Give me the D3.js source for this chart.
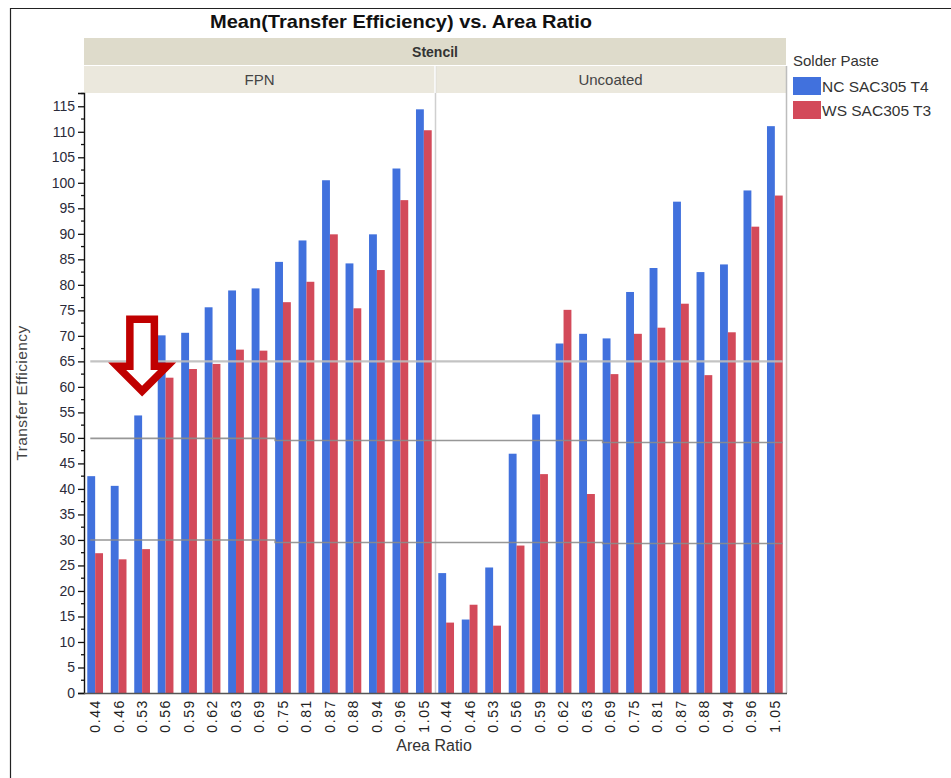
<!DOCTYPE html>
<html>
<head>
<meta charset="utf-8">
<script src="https://cdn.jsdelivr.net/npm/d3@7"></script>
<style>
  html, body { margin: 0; padding: 0; background: #fff; }
  svg { display: block; font-family: "Liberation Sans", Arial, sans-serif; }
</style>
</head>
<body>
<svg id="chart" width="951" height="778"></svg>
<script>
// Area ratio categories (shared by both stencil panels)
const categories = ["0.44","0.46","0.53","0.56","0.59","0.62","0.63","0.69","0.75","0.81","0.87","0.88","0.94","0.96","1.05"];
const panels = ["FPN", "Uncoated"];
const seriesNames = ["NC SAC305 T4", "WS SAC305 T3"];
const seriesColors = ["#4171dd", "#d34a5a"];

// Mean transfer efficiency per area ratio
const fpnNC = [42.5, 40.6, 54.4, 70.1, 70.6, 75.6, 78.9, 79.3, 84.5, 88.7, 100.5, 84.2, 89.9, 102.8, 114.4];
const fpnWS = [27.4, 26.2, 28.2, 61.8, 63.5, 64.5, 67.3, 67.1, 76.6, 80.6, 89.9, 75.4, 82.9, 96.6, 110.3];
const uncNC = [23.5, 14.4, 24.6, 46.9, 54.6, 68.5, 70.4, 69.5, 78.6, 83.3, 96.3, 82.5, 84.0, 98.5, 111.1];
const uncWS = [13.8, 17.3, 13.2, 28.9, 42.9, 75.1, 39.0, 62.5, 70.4, 71.6, 76.3, 62.3, 70.7, 91.4, 97.5];

const yTicks = d3.range(0, 116, 5);
const yMax = 117.6;

// Reference levels: [panel, starting category, value]
const ref65 = [["FPN", "0.44", 65]];
const ref50 = [["FPN", "0.44", 49.9], ["FPN", "0.75", 49.5], ["Uncoated", "0.69", 49.1]];
const ref30 = [["FPN", "0.44", 30.0], ["FPN", "0.75", 29.5], ["Uncoated", "0.69", 29.3]];

// Callout arrow pointing at a category
const arrowAt = { panel: "FPN", category: "0.53", topValue: 74 };

const data = [];
const seriesByPanel = { FPN: [fpnNC, fpnWS], Uncoated: [uncNC, uncWS] };
panels.forEach(p => categories.forEach((c, i) => seriesNames.forEach((s, k) => {
  data.push({ panel: p, category: c, series: s, value: seriesByPanel[p][k][i] });
})));

const svg = d3.select("#chart");
const plot = { left: 84, right: 786, top: 93, bottom: 693 };

const panelScale = d3.scaleBand().domain(panels).range([plot.left, plot.right]);
const xScale = d3.scaleBand().domain(categories)
  .range([0, panelScale.bandwidth()]).paddingInner(0.33).paddingOuter(0.14);
const sScale = d3.scaleBand().domain(seriesNames).range([0, xScale.bandwidth()]);
const yScale = d3.scaleLinear().domain([0, yMax]).range([plot.bottom, plot.top]);
const color = d3.scaleOrdinal().domain(seriesNames).range(seriesColors);

const xPos = (panel, cat) => panelScale(panel) + xScale(cat);

// Outer frame lines
svg.append("line").attr("x1", 10.5).attr("x2", 10.5).attr("y1", 8).attr("y2", 778)
  .attr("stroke", "#222").attr("stroke-width", 1.2);
svg.append("line").attr("x1", 10).attr("x2", 951).attr("y1", 8.5).attr("y2", 8.5)
  .attr("stroke", "#222").attr("stroke-width", 1.2);

// Title
svg.append("text").attr("x", 401).attr("y", 28).attr("text-anchor", "middle")
  .attr("font-size", 19).attr("font-weight", "bold").attr("fill", "#111")
  .attr("textLength", 382).attr("lengthAdjust", "spacingAndGlyphs")
  .text("Mean(Transfer Efficiency) vs. Area Ratio");

// Facet header bands
svg.append("rect").attr("x", plot.left).attr("y", 38).attr("width", plot.right - plot.left).attr("height", 27)
  .attr("fill", "#dedbcb");
svg.append("text").attr("x", (plot.left + plot.right) / 2).attr("y", 57).attr("text-anchor", "middle")
  .attr("font-size", 14).attr("font-weight", "bold").attr("fill", "#333").text("Stencil");
panels.forEach(p => {
  svg.append("rect").attr("x", panelScale(p)).attr("y", 66).attr("width", panelScale.bandwidth()).attr("height", 27)
    .attr("fill", "#ebe8dd");
  svg.append("text").attr("x", panelScale(p) + panelScale.bandwidth() / 2).attr("y", 85)
    .attr("text-anchor", "middle").attr("font-size", 15).attr("fill", "#444").text(p);
});

// Panel divider and right border
svg.append("line").attr("x1", panelScale("Uncoated") + 0.5).attr("x2", panelScale("Uncoated") + 0.5)
  .attr("y1", 66).attr("y2", plot.bottom).attr("stroke", "#cfcfcf").attr("stroke-width", 1.5);
svg.append("line").attr("x1", plot.right + 0.5).attr("x2", plot.right + 0.5)
  .attr("y1", 66).attr("y2", plot.bottom).attr("stroke", "#bdbdbd").attr("stroke-width", 1.5);
svg.append("line").attr("x1", panelScale("Uncoated")).attr("x2", panelScale("Uncoated"))
  .attr("y1", 66).attr("y2", 93).attr("stroke", "#ffffff").attr("stroke-width", 1.5);

// Bars
svg.append("g").selectAll("rect").data(data).join("rect")
  .attr("x", d => xPos(d.panel, d.category) + sScale(d.series))
  .attr("width", sScale.bandwidth())
  .attr("y", d => yScale(d.value))
  .attr("height", d => yScale(0) - yScale(d.value))
  .attr("fill", d => color(d.series));

// Reference lines drawn as stepped polylines
function refPath(segs) {
  const pts = [];
  const xStart = xPos("FPN", categories[0]) + 3;
  const xEnd = xPos("Uncoated", categories[categories.length - 1]) + xScale.bandwidth();
  segs.forEach((s, i) => {
    const x0 = i === 0 ? xStart : xPos(s[0], s[1]);
    if (i > 0) pts.push([x0, yScale(segs[i - 1][2])]);
    pts.push([x0, yScale(s[2])]);
  });
  pts.push([xEnd, yScale(segs[segs.length - 1][2])]);
  return d3.line()(pts);
}
svg.append("path").attr("d", refPath(ref65)).attr("fill", "none")
  .attr("stroke", "#bcbcbc").attr("stroke-width", 2.2).attr("opacity", 0.9);
[ref50, ref30].forEach(r => svg.append("path").attr("d", refPath(r)).attr("fill", "none")
  .attr("stroke", "#8c8c8c").attr("stroke-width", 1.6).attr("opacity", 0.9));

// Y axis
const yAxis = d3.axisLeft(yScale).tickValues(yTicks).tickSize(6).tickPadding(3);
const gy = svg.append("g").attr("transform", `translate(${plot.left},0)`).call(yAxis);
gy.select(".domain").attr("stroke", "#111").attr("stroke-width", 1.4);
gy.selectAll(".tick line").attr("stroke", "#111").attr("stroke-width", 1.3);
gy.selectAll(".tick text").attr("font-size", 14).attr("fill", "#2b2b3a")
  .attr("font-family", "'Liberation Sans', Arial, sans-serif");
const minorTicks = d3.range(2.5, yMax, 5);
gy.append("g").selectAll("line").data(minorTicks).join("line")
  .attr("x1", -3).attr("x2", 0).attr("y1", d => yScale(d)).attr("y2", d => yScale(d))
  .attr("stroke", "#111").attr("stroke-width", 1.3);

// X baseline
svg.append("line").attr("x1", plot.left).attr("x2", plot.right + 1).attr("y1", plot.bottom + 0.5).attr("y2", plot.bottom + 0.5)
  .attr("stroke", "#555").attr("stroke-width", 1.5);

// X tick labels, rotated, per panel
panels.forEach(p => {
  const axis = d3.axisBottom(xScale).tickSize(0).tickPadding(0);
  const gx = svg.append("g").attr("transform", `translate(${panelScale(p)},${plot.bottom})`).call(axis);
  gx.select(".domain").remove();
  gx.selectAll(".tick text")
    .attr("transform", "rotate(-90)")
    .attr("x", -6).attr("y", 0).attr("dy", "0.35em")
    .attr("text-anchor", "end")
    .attr("font-size", 14).attr("letter-spacing", 1.6)
    .attr("font-family", "'Liberation Sans', Arial, sans-serif")
    .attr("fill", "#222");
});

// Axis titles
svg.append("text").attr("x", 434).attr("y", 751).attr("text-anchor", "middle")
  .attr("font-size", 16).attr("fill", "#333").text("Area Ratio");
svg.append("text").attr("transform", `translate(27,${393}) rotate(-90)`)
  .attr("text-anchor", "middle").attr("font-size", 15.5).attr("letter-spacing", 0.4)
  .attr("fill", "#444").text("Transfer Efficiency");

// Legend
const lg = svg.append("g").attr("transform", "translate(793,0)");
lg.append("text").attr("x", 0).attr("y", 66).attr("font-size", 15).attr("fill", "#333").text("Solder Paste");
seriesNames.forEach((s, i) => {
  lg.append("rect").attr("x", 0).attr("y", 77 + i * 24).attr("width", 28).attr("height", 18).attr("fill", color(s));
  lg.append("text").attr("x", 29).attr("y", 92 + i * 24).attr("font-size", 15.5).attr("fill", "#333").text(s);
});

// Callout arrow (outlined, pointing down)
const ax = xPos(arrowAt.panel, arrowAt.category) + xScale.bandwidth() / 2;
const ay = yScale(arrowAt.topValue);
const outer = [[-16, 0], [16, 0], [16, 47], [34, 47], [0, 81], [-34, 47], [-16, 47]];
const inner = [[-8.5, 7.5], [8.5, 7.5], [8.5, 54.5], [15.9, 54.5], [0, 70.4], [-15.9, 54.5], [-8.5, 54.5]];
const ag = svg.append("g").attr("transform", `translate(${ax},${ay})`);
ag.append("path").attr("d", d3.line()(outer) + "Z").attr("fill", "#c00000");
ag.append("path").attr("d", d3.line()(inner) + "Z").attr("fill", "#ffffff");
</script>
</body>
</html>
